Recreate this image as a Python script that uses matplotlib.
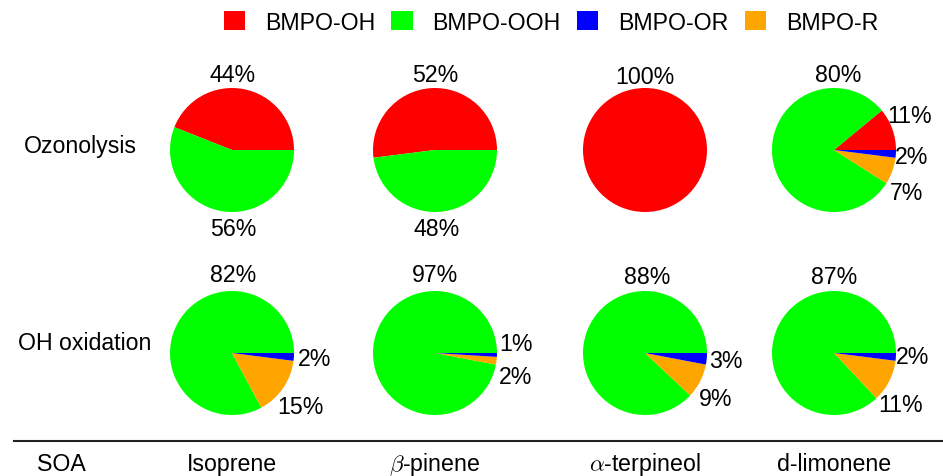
import matplotlib
matplotlib.use("Agg")
import matplotlib.pyplot as plt
from matplotlib.patches import Patch
from matplotlib.lines import Line2D

plt.rcParams['font.family'] = ['Liberation Sans', 'DejaVu Sans']
plt.rcParams['mathtext.fontset'] = 'cm'

# ---------------- data ----------------
species = ['Isoprene', r'$\beta$-pinene', r'$\alpha$-terpineol', 'd-limonene']
rows = ['Ozonolysis', 'OH oxidation']
components = ['BMPO-OH', 'BMPO-OOH', 'BMPO-OR', 'BMPO-R']
colors = {'BMPO-OH': '#ff0000', 'BMPO-OOH': '#00ff00',
          'BMPO-OR': '#0000ff', 'BMPO-R': '#ffa500'}

ozon_OH = [44, 52, 100, 11]
ozon_OOH = [56, 48, 0, 80]
ozon_OR = [0, 0, 0, 2]
ozon_R = [0, 0, 0, 7]

oxid_OH = [0, 0, 0, 0]
oxid_OOH = [82, 97, 88, 87]
oxid_OR = [2, 1, 3, 2]
oxid_R = [15, 2, 9, 11]

data = [
    {'BMPO-OH': ozon_OH, 'BMPO-OOH': ozon_OOH, 'BMPO-OR': ozon_OR, 'BMPO-R': ozon_R},
    {'BMPO-OH': oxid_OH, 'BMPO-OOH': oxid_OOH, 'BMPO-OR': oxid_OR, 'BMPO-R': oxid_R},
]
# wedge drawing order (counter-clockwise from 3 o'clock)
pie_order = ['BMPO-OH', 'BMPO-OOH', 'BMPO-R', 'BMPO-OR']

# ---------------- layout (pixels) ----------------
W, H = 943, 477
col_x = [232, 435, 645, 834]
row_y = [151, 354]
R = 62
FS = 16.7

# label offsets (dx, dy) from pie centre, per row/col/component
label_off = [
    [
        {'BMPO-OH': (1, -75), 'BMPO-OOH': (1, 79)},
        {'BMPO-OH': (0, -75), 'BMPO-OOH': (2, 79)},
        {'BMPO-OH': (0, -74)},
        {'BMPO-OOH': (4, -75), 'BMPO-OH': (76, -34), 'BMPO-OR': (78, 6), 'BMPO-R': (73, 42)},
    ],
    [
        {'BMPO-OOH': (1, -78), 'BMPO-OR': (83, 5), 'BMPO-R': (68, 54)},
        {'BMPO-OOH': (0, -78), 'BMPO-OR': (81, -9), 'BMPO-R': (81, 24)},
        {'BMPO-OOH': (2, -76), 'BMPO-OR': (81, 8), 'BMPO-R': (71, 45)},
        {'BMPO-OOH': (0, -77), 'BMPO-OR': (79, 4), 'BMPO-R': (67, 51)},
    ],
]

fig = plt.figure(figsize=(W / 100, H / 100), dpi=100)


def fx(x):
    return x / W


def fy(y):
    return 1 - y / H


for i in range(2):
    for j in range(4):
        cx, cy = col_x[j], row_y[i]
        ax = fig.add_axes([fx(cx - R), fy(cy + R), 2 * R / W, 2 * R / H])
        vals = [data[i][c][j] for c in pie_order]
        cols = [colors[c] for c in pie_order]
        ax.pie(vals, colors=cols, startangle=0, counterclock=True, radius=1,
               wedgeprops=dict(linewidth=0, antialiased=True))
        ax.set_xlim(-1, 1)
        ax.set_ylim(-1, 1)
        ax.axis('off')
        for comp, (dx, dy) in label_off[i][j].items():
            v = data[i][comp][j]
            fig.text(fx(cx + dx), fy(cy + dy), f'{v}%', ha='center', va='center',
                     fontsize=FS)

# row labels
fig.text(fx(80), fy(146), rows[0], ha='center', va='center', fontsize=FS)
fig.text(fx(85), fy(344), rows[1], ha='center', va='center', fontsize=FS)

# bottom separator and labels
fig.add_artist(Line2D([fx(14), fx(943)], [fy(442), fy(442)], color='#222222',
                      linewidth=1.5, transform=fig.transFigure))
fig.text(fx(61), fy(471), 'SOA', ha='center', va='baseline', fontsize=FS)
for j, name in enumerate(species):
    fig.text(fx(col_x[j]), fy(471), name, ha='center', va='baseline', fontsize=FS)

# legend
handles = [Patch(facecolor=colors[c], edgecolor='none') for c in components]
fig.legend(handles, components, loc='center', bbox_to_anchor=(fx(551), fy(23)),
           ncol=4, frameon=False, fontsize=FS, handlelength=0.92, handleheight=0.92,
           handletextpad=0.85, columnspacing=0.7)

fig.savefig('out.png', dpi=100)
